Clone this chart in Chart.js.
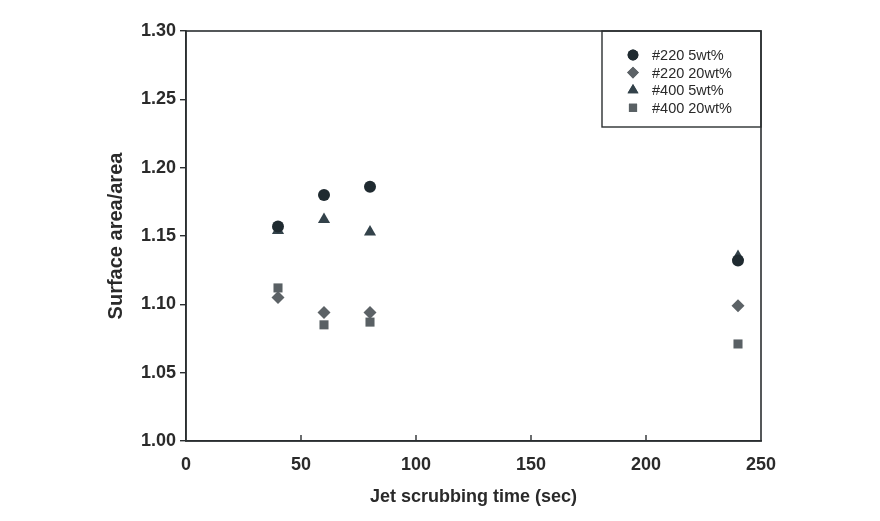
<!DOCTYPE html>
<html>
<head>
<meta charset="utf-8">
<script src="https://cdn.jsdelivr.net/npm/chart.js@4"></script>
<style>
  html, body { margin: 0; padding: 0; background: #fff; }
  #wrap { width: 880px; height: 521px; }
</style>
</head>
<body>
<div id="wrap"><canvas id="scrubChart" width="880" height="521"></canvas></div>
<script>
// Data
const times = [40, 60, 80, 240];
const seriesNames = ['#220 5wt%', '#220 20wt%', '#400 5wt%', '#400 20wt%'];
const s220_5 = [1.157, 1.180, 1.186, 1.132];
const s220_20 = [1.105, 1.094, 1.094, 1.099];
const s400_5 = [1.154, 1.162, 1.153, 1.135];
const s400_20 = [1.112, 1.085, 1.087, 1.071];
const xTicks = [0, 50, 100, 150, 200, 250];
const yTicks = [1.00, 1.05, 1.10, 1.15, 1.20, 1.25, 1.30];

const axisColor = '#2b2f31';
const fontFamily = '"Liberation Sans", Arial, Helvetica, sans-serif';

function toPoints(values) {
    return times.map((t, i) => ({ x: t, y: values[i] }));
}

const styles = [
    { shape: 'circle', color: '#1f2a30', radius: 6 },
    { shape: 'rectRot', color: '#5c6266', radius: 6.5 },
    { shape: 'triangle', color: '#33424a', radius: 7 },
    { shape: 'rect', color: '#596064', radius: 6.4 }
];
const allValues = [s220_5, s220_20, s400_5, s400_20];

// lower order is drawn on top: circles over triangles, diamonds over squares
const drawOrder = [0, 2, 1, 3];

const datasets = seriesNames.map((name, i) => ({
    label: name,
    data: toPoints(allValues[i]),
    pointStyle: styles[i].shape,
    pointRadius: styles[i].radius,
    pointHoverRadius: styles[i].radius,
    backgroundColor: styles[i].color,
    borderColor: styles[i].color,
    borderWidth: 0,
    order: drawOrder[i]
}));

// frame, inward x ticks and boxed legend
const framePlugin = {
    id: 'frame',
    afterDraw(chart) {
        const ctx = chart.ctx;
        const area = chart.chartArea;
        const xs = chart.scales.x;
        ctx.save();
        ctx.strokeStyle = axisColor;
        ctx.lineWidth = 1.6;
        ctx.strokeRect(area.left, area.top, area.right - area.left, area.bottom - area.top);

        // inward ticks on the x axis
        ctx.lineWidth = 1.4;
        xTicks.slice(1, -1).forEach(v => {
            const px = xs.getPixelForValue(v);
            ctx.beginPath();
            ctx.moveTo(px, area.bottom);
            ctx.lineTo(px, area.bottom - 6);
            ctx.stroke();
        });

        // legend box
        const boxLeft = 602, boxRight = area.right, boxTop = area.top, boxBottom = 127;
        ctx.lineWidth = 1.4;
        ctx.strokeRect(boxLeft, boxTop, boxRight - boxLeft, boxBottom - boxTop);
        ctx.font = '14.5px ' + fontFamily;
        ctx.textBaseline = 'middle';
        ctx.textAlign = 'left';
        chart.data.datasets.forEach((ds, i) => {
            const y = 55 + i * 17.6;
            ctx.fillStyle = ds.backgroundColor;
            Chart.helpers.drawPoint(ctx, {
                pointStyle: ds.pointStyle,
                radius: ds.pointRadius * 0.9,
                rotation: 0,
                borderWidth: 0
            }, 633, y);
            ctx.fill();
            ctx.fillStyle = '#2a2a2a';
            ctx.fillText(ds.label, 652, y + 1);
        });
        ctx.restore();
    }
};

const chart = new Chart(document.getElementById('scrubChart'), {
    type: 'scatter',
    data: { datasets: datasets },
    options: {
        responsive: false,
        animation: false,
        layout: { padding: { top: 31, right: 119, left: 0, bottom: 0 } },
        plugins: {
            legend: { display: false },
            tooltip: { enabled: false }
        },
        scales: {
            x: {
                type: 'linear',
                min: 0,
                max: 250,
                afterBuildTicks: scale => { scale.ticks = xTicks.map(v => ({ value: v })); },
                afterFit: scale => { scale.height = 80; },
                grid: { display: true, drawOnChartArea: false, drawTicks: false, color: axisColor },
                border: { display: true, color: axisColor, width: 1.6 },
                ticks: {
                    padding: 13,
                    color: '#2a2a2a',
                    font: { family: fontFamily, size: 18, weight: 'bold' }
                },
                title: {
                    display: true,
                    text: 'Jet scrubbing time (sec)',
                    color: '#2a2a2a',
                    font: { family: fontFamily, size: 18, weight: 'bold' },
                    padding: { top: 0, bottom: 13 }
                }
            },
            y: {
                type: 'linear',
                min: 1.0,
                max: 1.3,
                afterBuildTicks: scale => { scale.ticks = yTicks.map(v => ({ value: v })); },
                afterFit: scale => { scale.width = 186; },
                grid: { display: true, drawOnChartArea: false, drawTicks: true, tickLength: 6, color: axisColor, lineWidth: 1.4 },
                border: { display: true, color: axisColor, width: 1.6 },
                ticks: {
                    padding: 4,
                    color: '#2a2a2a',
                    font: { family: fontFamily, size: 18, weight: 'bold' },
                    callback: v => Number(v).toFixed(2)
                },
                title: {
                    display: true,
                    text: 'Surface area/area',
                    color: '#2a2a2a',
                    font: { family: fontFamily, size: 20, weight: 'bold' },
                    padding: { top: 104, bottom: 0 }
                }
            }
        }
    },
    plugins: [framePlugin]
});
</script>
</body>
</html>
